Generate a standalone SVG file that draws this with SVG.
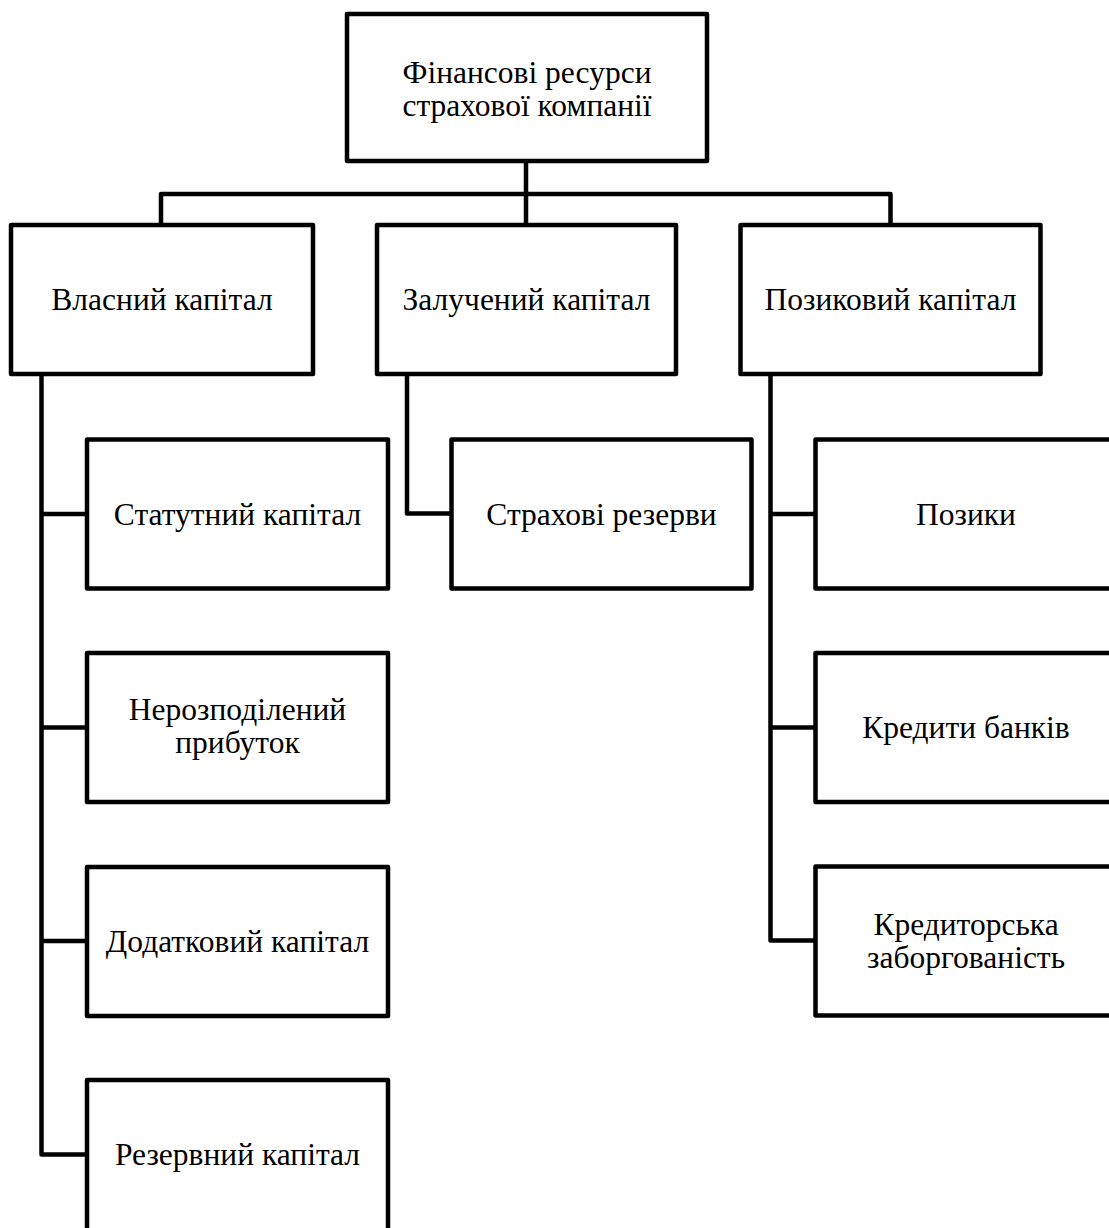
<svg xmlns="http://www.w3.org/2000/svg" width="1109" height="1228" viewBox="0 0 1109 1228">
<style>
.box{fill:#fff;stroke:#000;stroke-width:4.5;stroke-linejoin:round}
.ln{fill:none;stroke:#000;stroke-width:4.5;stroke-linejoin:round}
text{font-family:"Liberation Serif","Times New Roman",serif;font-size:31.5px;fill:#000;text-anchor:middle}
</style>
<rect width="1109" height="1228" fill="#fff"/>
<g id="connectors">
<path class="ln" d="M526,161V225"/>
<path class="ln" d="M161,225V194H890.5V225"/>
<path class="ln" d="M41.5,374V1154.5H87"/>
<path class="ln" d="M41.5,514H87M41.5,727.5H87M41.5,941H87"/>
<path class="ln" d="M407,374V513.5H451"/>
<path class="ln" d="M770.5,374V940.5H815"/>
<path class="ln" d="M770.5,514H815M770.5,727.5H815"/>
</g>
<g id="root"><rect class="box" x="347" y="14" width="360" height="147"/><text x="527" y="83">Фінансові ресурси</text><text x="527" y="116">страхової компанії</text></g>
<g id="own"><rect class="box" x="11" y="225" width="302" height="149"/><text x="162" y="310">Власний капітал</text></g>
<g id="attracted"><rect class="box" x="377" y="225" width="299" height="149"/><text x="526.5" y="310">Залучений капітал</text></g>
<g id="borrowed"><rect class="box" x="740.5" y="225" width="300" height="149"/><text x="890.5" y="310">Позиковий капітал</text></g>
<g id="statutory"><rect class="box" x="87" y="439.5" width="301" height="149"/><text x="237.5" y="525">Статутний капітал</text></g>
<g id="retained"><rect class="box" x="87" y="653" width="301" height="149"/><text x="237.5" y="720">Нерозподілений</text><text x="237.5" y="753">прибуток</text></g>
<g id="additional"><rect class="box" x="87" y="867" width="301" height="149"/><text x="237.5" y="952">Додатковий капітал</text></g>
<g id="reserve"><rect class="box" x="87" y="1080" width="301" height="160"/><text x="237.5" y="1165">Резервний капітал</text></g>
<g id="insreserves"><rect class="box" x="451.5" y="439.5" width="300" height="149"/><text x="601.5" y="525">Страхові резерви</text></g>
<g id="loans"><rect class="box" x="815.5" y="439.5" width="301" height="149"/><text x="966" y="525">Позики</text></g>
<g id="bankcredits"><rect class="box" x="815.5" y="653" width="301" height="149"/><text x="966" y="738">Кредити банків</text></g>
<g id="payables"><rect class="box" x="815.5" y="866.5" width="301" height="149"/><text x="966" y="934.5">Кредиторська</text><text x="966" y="967.5">заборгованість</text></g>
</svg>
